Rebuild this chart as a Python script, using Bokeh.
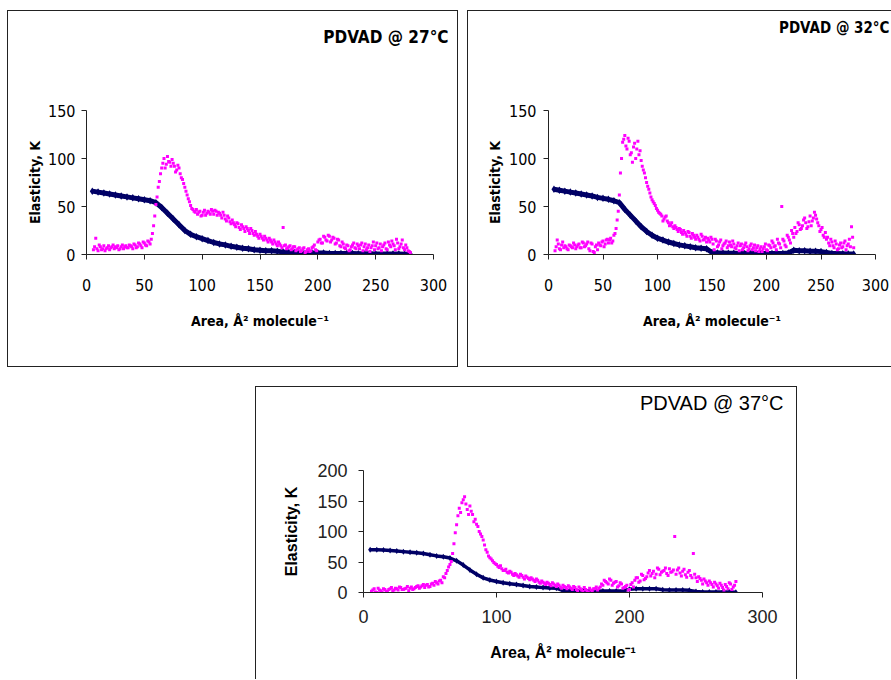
from bokeh.plotting import figure
from bokeh.models import Range1d, FixedTicker, Title, Spacer
from bokeh.layouts import column, row
from bokeh.embed import file_html
from bokeh.resources import INLINE

# ---------------- data ----------------
AREA_MAG_A = [
    6, 8, 10, 12, 14, 16, 18, 20, 22, 24,
    26, 28, 30, 32, 34, 36, 38, 40, 42, 44,
    46, 48, 50, 52, 54, 56, 58, 60, 62, 64,
    66, 68, 70, 72, 74, 76, 78, 80, 82, 84,
    86, 88, 90, 92, 94, 96, 98, 100, 102, 104,
    106, 108, 110, 112, 114, 116, 118, 120, 122, 124,
    126, 128, 130, 132, 134, 136, 138, 140, 142, 144,
    146, 148, 150, 152, 154, 156, 158, 160, 162, 164,
    166, 168, 170, 172, 174, 176, 178, 180, 182, 184,
    186, 188, 190, 192, 194, 196, 198, 200, 202, 204,
    206, 208, 210, 212, 214, 216, 218, 220, 222, 224,
    226, 228, 230, 232, 234, 236, 238, 240, 242, 244,
    246, 248, 250, 252, 254, 256, 258, 260, 262, 264,
    266, 268, 270, 272, 274, 276, 278, 280,
]
AREA_MAG_B = [
    7, 9, 11, 13, 15, 17, 19, 21, 23, 25,
    27, 29, 31, 33, 35, 37, 39, 41, 43, 45,
    47, 49, 51, 53, 55, 57, 59, 61, 63, 65,
    67, 69, 71, 73, 75, 77, 79, 81, 83, 85,
    87, 89, 91, 93, 95, 97, 99, 101, 103, 105,
    107, 109, 111, 113, 115, 117, 119, 121, 123, 125,
    127, 129, 131, 133, 135, 137, 139, 141, 143, 145,
    147, 149, 151, 153, 155, 157, 159, 161, 163, 165,
    167, 169, 171, 173, 175, 177, 179, 181, 183, 185,
    187, 189, 191, 193, 195, 197, 199, 201, 203, 205,
    207, 209, 211, 213, 215, 217, 219, 221, 223, 225,
    227, 229, 231, 233, 235, 237, 239, 241, 243, 245,
    247, 249, 251, 253, 255, 257, 259, 261, 263, 265,
    267, 269, 271, 273, 275, 277, 279,
]
AREA_NAVY = [
    5, 10, 15, 20, 25, 30, 35, 40, 45, 50,
    55, 60, 65, 70, 75, 80, 85, 90, 95, 100,
    105, 110, 115, 120, 125, 130, 135, 140, 145, 150,
    155, 160, 165, 170, 175, 180, 185, 190, 195, 200,
    205, 210, 215, 220, 225, 230, 235, 240, 245, 250,
    255, 260, 265, 270, 275, 280,
]

# ---- 27 C
NAVY_27 = [
    66, 65, 64, 63, 62, 61, 60, 59, 58, 57,
    56, 54, 49, 43, 37, 31, 25, 21, 18.5, 16.5,
    14.5, 12.5, 11, 10, 8.5, 7.5, 6.5, 6, 5, 4.5,
    4, 4, 3.5, 2.5, 2, 2, 1.5, 1.5, 1.5, 1.5,
    1.5, 1, 1, 1, 1, 1, 0.8, 0.8, 0.8, 0.6,
    0.5, 0.5, 0.5, 0.4, 0.3, 0.2,
]
MAG_27_A = [
    5, 17, 4, 8, 6, 4, 7, 5, 8, 6,
    7, 5, 8, 6, 9, 7, 9, 6, 10, 8,
    11, 7, 12, 9, 13, 16, 30, 52, 70, 84,
    95, 90, 102, 96, 99, 92, 88, 90, 80, 74,
    66, 58, 51, 47, 44, 42, 45, 41, 46, 43,
    44, 47, 42, 45, 44, 41, 44, 37, 40, 34,
    36, 31, 33, 28, 31, 27, 29, 25, 27, 22,
    24, 19, 21, 17, 19, 15, 17, 13, 15, 11,
    13, 9, 28, 10, 7, 9, 6, 8, 5, 7,
    4, 7, 3, 6, 4, 8, 5, 13, 16, 12,
    18, 14, 19, 15, 17, 12, 15, 8, 11, 6,
    9, 5, 10, 7, 11, 6, 12, 8, 5, 10,
    7, 13, 9, 6, 11, 8, 12, 5, 10, 14,
    9, 16, 6, 11, 7, 10, 4, 2,
]
MAG_27_B = [
    8, 6, 10, 5, 9, 6, 9, 7, 10, 8,
    9, 6, 10, 8, 7, 10, 8, 11, 7, 12,
    9, 13, 10, 14, 11, 22, 40, 60, 76, 90,
    100, 94, 97, 92, 95, 86, 93, 84, 78, 70,
    62, 55, 48, 45, 47, 44, 40, 44, 41, 45,
    42, 45, 46, 41, 43, 38, 41, 35, 38, 32,
    33, 29, 32, 26, 29, 24, 27, 22, 25, 20,
    21, 17, 19, 15, 17, 13, 15, 11, 13, 9,
    11, 7, 9, 6, 8, 5, 8, 4, 6, 3,
    6, 2, 5, 3, 7, 10, 4, 15, 12, 19,
    15, 20, 13, 18, 11, 16, 9, 13, 7, 10,
    4, 8, 12, 6, 9, 10, 4, 11, 7, 3,
    9, 5, 12, 7, 4, 10, 6, 13, 8, 11,
    5, 12, 8, 15, 5, 7, 3,
]

# ---- 32 C
NAVY_32 = [
    68, 67, 66, 65, 64, 63, 62, 61, 59.5, 58.5,
    57.5, 56, 54, 47, 41, 35, 29, 24, 20, 17,
    15, 13, 11.5, 10, 9, 8, 7, 6.5, 6, 2,
    1.5, 1.5, 1.2, 1.2, 1, 1, 1, 1, 1, 1,
    1, 1, 1, 1.5, 4.5, 4, 4, 3.5, 3.5, 3,
    2, 1, 1, 0.8, 0.6, 0.5,
]
MAG_32_A = [
    4, 15, 6, 10, 7, 8, 5, 9, 7, 10,
    8, 11, 7, 12, 9, 13, 4, 11, 2, 10,
    12, 9, 14, 11, 16, 15, 12, 20, 27, 45,
    85, 117, 124, 110, 118, 106, 112, 100, 118, 108,
    92, 85, 75, 68, 60, 55, 51, 46, 43, 40,
    37, 40, 33, 31, 29, 30, 26, 27, 23, 25,
    21, 24, 19, 22, 18, 20, 16, 21, 15, 18,
    17, 13, 16, 5, 14, 10, 15, 9, 12, 7,
    13, 8, 11, 6, 12, 9, 5, 10, 8, 6,
    11, 7, 4, 9, 6, 3, 8, 5, 10, 7,
    12, 9, 16, 11, 50, 14, 8, 18, 12, 22,
    28, 24, 31, 27, 36, 33, 29, 40, 35, 44,
    37, 30, 26, 20, 23, 18, 9, 13, 7, 11,
    6, 12, 8, 14, 9, 16, 29, 7,
]
MAG_32_B = [
    8, 11, 5, 13, 9, 6, 10, 8, 12, 6,
    10, 7, 13, 8, 11, 6, 12, 3, 8, 5,
    10, 13, 8, 15, 12, 17, 14, 22, 36, 62,
    100, 120, 113, 121, 104, 96, 116, 110, 104, 98,
    88, 80, 71, 64, 57, 53, 48, 44, 42, 35,
    39, 35, 30, 33, 27, 28, 24, 26, 21, 23,
    19, 23, 17, 20, 16, 18, 14, 19, 16, 13,
    15, 18, 11, 16, 8, 13, 6, 11, 14, 9,
    10, 14, 7, 9, 4, 11, 7, 12, 4, 9,
    5, 10, 7, 3, 8, 6, 11, 4, 9, 14,
    8, 5, 12, 7, 16, 10, 20, 15, 25, 18,
    22, 33, 26, 30, 38, 27, 34, 30, 38, 41,
    33, 24, 28, 18, 16, 12, 16, 9, 14, 5,
    10, 7, 12, 5, 11, 8, 18,
]

# ---- 37 C
NAVY_37 = [
    70, 70, 69.5, 69, 68, 67, 66, 65, 64, 62,
    60, 58.5, 56.5, 52, 45, 37, 30, 24, 20.5, 18,
    16, 14.5, 13, 11.5, 10, 9, 8, 7.5, 7, 3,
    3, 2.8, 2.8, 2.5, 2.5, 2.5, 2.5, 2.5, 2.5, 5.5,
    6, 6, 6, 6, 4.5, 4, 4, 4, 3.5, 1.5,
    1, 1, 1, 0.8, 0.8, 0.5,
]
MAG_37_A = [
    2, 6, 0, 4, 1, 5, 2, 6, 3, 7,
    4, 8, 5, 7, 3, 9, 6, 10, 7, 11,
    8, 13, 10, 15, 18, 14, 20, 26, 31, 42,
    51, 80, 111, 138, 147, 157, 136, 142, 128, 120,
    108, 96, 86, 70, 60, 55, 49, 46, 41, 39,
    36, 33, 35, 30, 31, 27, 30, 25, 27, 23,
    24, 20, 22, 17, 19, 15, 17, 13, 16, 12,
    14, 9, 12, 8, 11, 7, 10, 5, 9, 4,
    8, 3, 7, 2, 6, 4, 9, 12, 18, 14,
    20, 15, 18, 11, 14, 8, 12, 5, 16, 20,
    24, 19, 28, 23, 32, 27, 35, 30, 38, 33,
    36, 31, 39, 34, 92, 37, 32, 35, 29, 33,
    28, 64, 24, 26, 20, 22, 16, 19, 13, 17,
    11, 15, 8, 13, 6, 14, 9, 18,
]
MAG_37_B = [
    4, 1, 7, 3, 6, 2, 5, 8, 4, 6,
    9, 5, 6, 10, 7, 5, 8, 11, 9, 13,
    12, 9, 14, 12, 16, 19, 16, 24, 36, 46,
    64, 98, 126, 131, 152, 145, 128, 133, 116, 112,
    100, 92, 78, 66, 57, 52, 47, 43, 44, 36,
    38, 32, 33, 28, 29, 25, 28, 22, 25, 21,
    22, 18, 20, 15, 17, 13, 15, 11, 14, 10,
    12, 7, 10, 6, 9, 5, 8, 3, 6, 2,
    5, 1, 4, 6, 9, 7, 14, 20, 16, 22,
    12, 17, 9, 16, 7, 10, 4, 13, 9, 24,
    17, 30, 21, 26, 36, 31, 24, 40, 29, 35,
    40, 28, 33, 37, 30, 40, 27, 38, 25, 36,
    24, 30, 18, 23, 14, 19, 12, 16, 9, 14,
    7, 12, 4, 10, 16, 5, 12,
]

X_TICKS_A = [0, 50, 100, 150, 200, 250, 300]
Y_TICKS_A = [0, 50, 100, 150]
X_TICKS_B = [0, 100, 200, 300]
Y_TICKS_B = [0, 50, 100, 150, 200]

TITLES = ["PDVAD @ 27°C", "PDVAD @ 32°C", "PDVAD @ 37°C"]
X_LABEL = "Area, Å² molecule⁻¹"
Y_LABEL = "Elasticity, K"

NAVY = "#000066"
MAGENTA = "#ff00ff"
NARROW = "DejaVu Sans Condensed"
ARIAL = "Liberation Sans"


def panel(w, h, mbl, mbr, mbt, mbb, ymax, xt, yt, navy, mag_a, mag_b, title, cfg, border):
    p = figure(width=w, height=h, x_range=Range1d(0, 300), y_range=Range1d(0, ymax),
               output_backend="svg", toolbar_location=None,
               min_border_left=mbl, min_border_right=mbr,
               min_border_top=mbt, min_border_bottom=mbb)
    p.styles = border
    p.grid.visible = False
    p.outline_line_color = None
    p.background_fill_color = "white"
    p.border_fill_color = "white"

    p.line(AREA_NAVY, navy, line_color=NAVY, line_width=cfg["navy_w"])
    p.scatter(AREA_NAVY, navy, marker="diamond", size=cfg["navy_w"] + 2.5,
              fill_color=NAVY, line_color=None)
    for xs, ys in ((AREA_MAG_A, mag_a), (AREA_MAG_B, mag_b)):
        p.scatter(xs, ys, marker="square", size=3, fill_color=MAGENTA, line_color=None)

    for ax, ticks in ((p.xaxis[0], xt), (p.yaxis[0], yt)):
        ax.ticker = FixedTicker(ticks=ticks, minor_ticks=[])
        ax.major_tick_out = 5
        ax.major_tick_in = 0
        ax.minor_tick_out = 0
        ax.minor_tick_in = 0
        ax.axis_line_color = "#222222"
        ax.major_tick_line_color = "#222222"
        ax.major_label_text_font = cfg["tick_font"]
        ax.major_label_text_font_size = cfg["tick_size"]
        ax.major_label_text_color = cfg["tick_color"]
        ax.axis_label_text_font = cfg["label_font"]
        ax.axis_label_text_font_size = cfg["label_size"]
        ax.axis_label_text_font_style = "bold"
        ax.axis_label_text_color = "#000000"
    p.xaxis.axis_label = X_LABEL
    p.yaxis.axis_label = Y_LABEL
    p.xaxis.major_label_standoff = cfg["xstand"]
    p.xaxis.axis_label_standoff = cfg["xlstand"]
    p.yaxis.major_label_standoff = cfg["ystand"]
    p.yaxis.axis_label_standoff = cfg["ylstand"]
    p.yaxis.major_label_orientation = "horizontal"

    # title sits in the top-right corner of the panel: trailing blank lines lift it
    p.add_layout(Title(text=title + "\n\n", align="right", offset=cfg["toff"], standoff=0,
                       text_line_height=cfg["tlh"], text_font=cfg["title_font"],
                       text_font_size=cfg["title_size"], text_font_style=cfg["title_style"],
                       text_color="#000000"), "above")
    return p


cfg1 = dict(navy_w=5, tick_font=NARROW, tick_size="16px", tick_color="#000000",
            label_font=NARROW, label_size="14px", xstand=19, xlstand=19,
            ystand=6, ylstand=2, toff=-15, tlh=1.6, title_font=NARROW,
            title_size="17px", title_style="bold")
cfg2 = dict(cfg1, ystand=7, ylstand=3, toff=-14, tlh=2.03, title_size="15px")
cfg3 = dict(navy_w=3.5, tick_font=ARIAL, tick_size="18px", tick_color="#222222",
            label_font=ARIAL, label_size="16px", xstand=12, xlstand=18,
            ystand=11, ylstand=14, toff=-21, tlh=1.28, title_font=ARIAL,
            title_size="20px", title_style="normal")

BORDER = "1px solid #222222"
p1 = panel(451, 357, 78, 26, 99, 113, 150, X_TICKS_A, Y_TICKS_A, NAVY_27, MAG_27_A, MAG_27_B,
           TITLES[0], cfg1, {"border": BORDER})
p2 = panel(424, 357, 80, 17, 94, 114, 150, X_TICKS_A, Y_TICKS_A, NAVY_32, MAG_32_A, MAG_32_B,
           TITLES[1], cfg2, {"border-top": BORDER, "border-left": BORDER,
                             "border-bottom": BORDER})
p3 = panel(542, 293, 107, 36, 83, 88, 200, X_TICKS_B, Y_TICKS_B, NAVY_37, MAG_37_A, MAG_37_B,
           TITLES[2], cfg3, {"border-top": BORDER, "border-left": BORDER,
                             "border-right": BORDER})

layout = column(Spacer(height=10),
                row(Spacer(width=7), p1, Spacer(width=9), p2),
                Spacer(height=19),
                row(Spacer(width=255), p3))

open("out.html", "w").write(file_html(layout, INLINE))
